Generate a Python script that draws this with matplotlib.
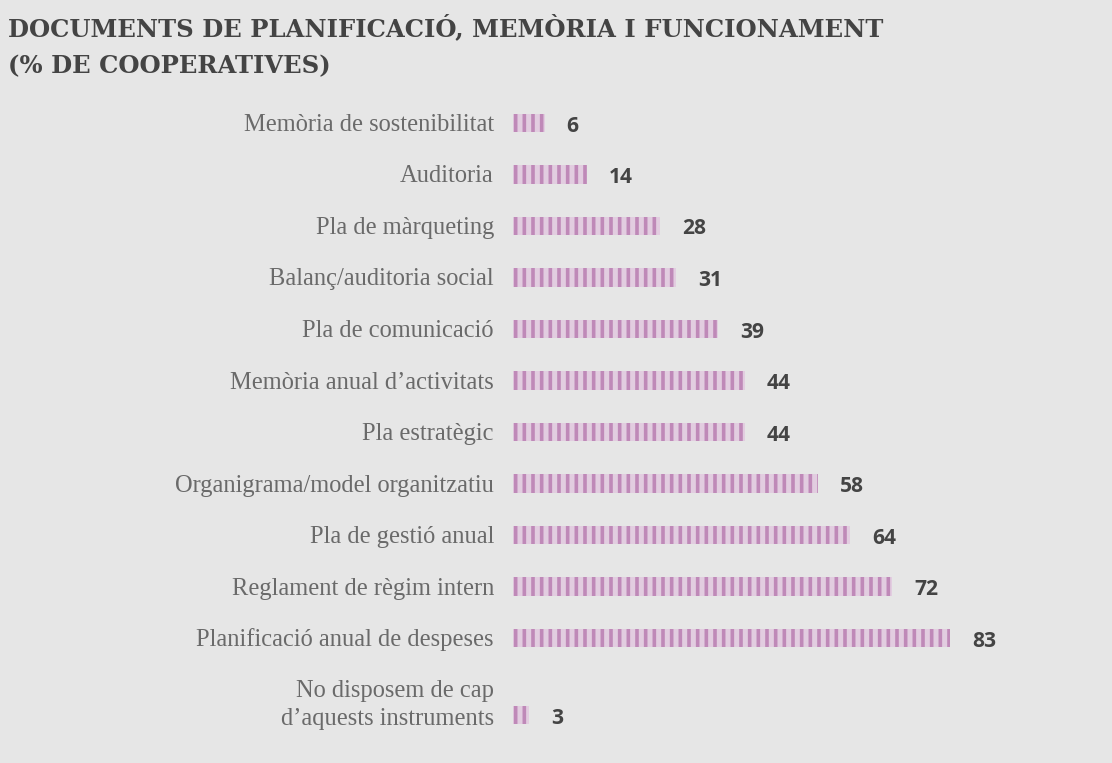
import matplotlib
matplotlib.use("Agg")
import matplotlib.pyplot as plt

categories = [
    "Memòria de sostenibilitat",
    "Auditoria",
    "Pla de màrqueting",
    "Balanç/auditoria social",
    "Pla de comunicació",
    "Memòria anual d’activitats",
    "Pla estratègic",
    "Organigrama/model organitzatiu",
    "Pla de gestió anual",
    "Reglament de règim intern",
    "Planificació anual de despeses",
    "No disposem de cap\nd’aquests instruments",
]
values = [6, 14, 28, 31, 39, 44, 44, 58, 64, 72, 83, 3]
positions = [0, 1, 2, 3, 4, 5, 6, 7, 8, 9, 10, 11.5]

title = "DOCUMENTS DE PLANIFICACIÓ, MEMÒRIA I FUNCIONAMENT\n(% DE COOPERATIVES)"

bg = "#e6e6e6"
light = "#e2cde0"
dark = "#bf89b8"

DPI = 104
plt.rcParams["hatch.linewidth"] = 2.5
plt.rcParams["hatch.color"] = dark

fig = plt.figure(figsize=(1112 / DPI, 763 / DPI), dpi=DPI, facecolor=bg)
ax = fig.add_axes([513 / 1112, 0, 1 - 513 / 1112, 1])
ax.set_facecolor(bg)
ax.set_xlim(0, 599 / 5.265)
ax.set_ylim((763 - 123) / 51.5, -123 / 51.5)
ax.axis("off")

ax.barh(positions, values, height=0.35, color=light, hatch="||",
        edgecolor=dark, linewidth=0)

for pos, val, cat in zip(positions, values, categories):
    ax.annotate(str(val), (val, pos), xytext=(22, -3), textcoords="offset pixels",
                ha="left", va="center", fontsize=14.5, fontweight="bold",
                family="Open Sans", color="#444444")
    dy = 10 if "\n" in cat else -2
    ax.annotate(cat, (0, pos), xytext=(-19, dy), textcoords="offset pixels",
                ha="right", va="center", fontsize=17, family="Liberation Serif",
                color="#6a6a6a", linespacing=1.35, annotation_clip=False)

fig.text(8 / 1112, 1 - 14 / 763, title, ha="left", va="top", fontsize=16.8,
         fontweight="bold", family="DejaVu Serif", color="#444444", linespacing=1.68)

fig.savefig("out.png", dpi=DPI, facecolor=bg)
